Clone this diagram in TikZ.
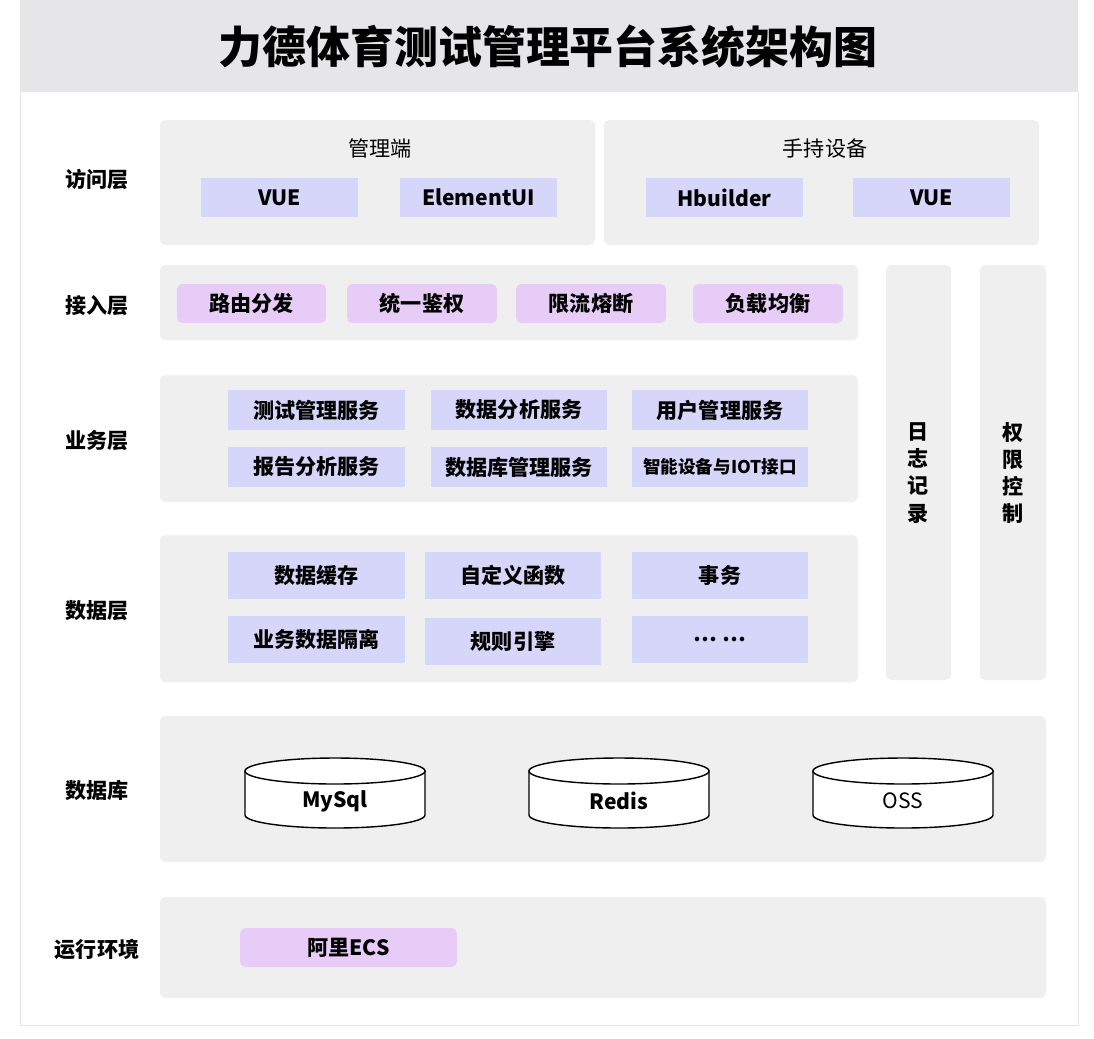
\documentclass[tikz,border=0pt]{standalone}
\usepackage{fontspec}
\setmainfont{Noto Sans CJK SC}
\definecolor{bandgray}{HTML}{E6E6E9}
\definecolor{panelgray}{HTML}{EFEFEF}
\definecolor{lav}{HTML}{D6D6FA}
\definecolor{lilac}{HTML}{E8CCF8}
\begin{document}
\begin{tikzpicture}[x=0.02cm,y=-0.02cm,
    panel/.style={fill=panelgray,rounded corners=3pt},
    bf/.style={font=\bfseries\fontsize{12}{14}\selectfont},
    layer/.style={font=\bfseries\fontsize{12}{14}\selectfont},
    db/.style={thick,fill=white}]
  % ------ cadre --------------
  \useasboundingbox (0,0) rectangle (1094,1038);
  \fill[white] (0,0) rectangle (1094,1038);
  \fill[bandgray] (20,0) rectangle (1078,92);
  \draw[bandgray] (20,92) -- (20,1025) -- (1078,1025) -- (1078,92);
  \node (title) at (548,47) {\bfseries\fontsize{25}{30}\selectfont 力德体育测试管理平台系统架构图};

  % ------ couches --------------
  \node[layer] (l1) at (97,180) {访问层};
  \node[layer] (l2) at (97,306) {接入层};
  \node[layer] (l3) at (97,441) {业务层};
  \node[layer] (l4) at (97,611) {数据层};
  \node[layer] (l5) at (97,790) {数据库};
  \node[layer] (l6) at (97,950) {运行环境};

  % ------ panneaux --------------
  \fill[panel] (160,120) rectangle (595,245);
  \fill[panel] (604,120) rectangle (1039,245);
  \fill[panel] (160,265) rectangle (858,340);
  \fill[panel] (160,375) rectangle (858,502);
  \fill[panel] (160,535) rectangle (858,682);
  \fill[panel] (886,265) rectangle (951,680);
  \fill[panel] (980,265) rectangle (1046,680);
  \fill[panel] (160,716) rectangle (1046,862);
  \fill[panel] (160,897) rectangle (1046,998);

  % ------ acces --------------
  \node (admin) at (380,148) {\fontsize{12}{14}\selectfont 管理端};
  \node (hand) at (825,148) {\fontsize{12}{14}\selectfont 手持设备};
  \fill[lav] (201,178) rectangle (358,217); \node[bf] (vue1) at (279.5,197.5) {VUE};
  \fill[lav] (400,178) rectangle (557,217); \node[bf] (eui) at (478.5,197.5) {ElementUI};
  \fill[lav] (646,178) rectangle (803,217); \node[bf] (hb) at (724.5,197.5) {Hbuilder};
  \fill[lav] (853,178) rectangle (1010,217); \node[bf] (vue2) at (931.5,197.5) {VUE};

  % ------ entree --------------
  \foreach \xa/\xb/\txt [count=\i] in {177/326/路由分发,347/497/统一鉴权,516/666/限流熔断,693/843/负载均衡}{
    \fill[lilac,rounded corners=3pt] (\xa,284) rectangle (\xb,323);
    \node[bf] (gw\i) at ({(\xa+\xb)/2},303.5) {\txt};
  }

  % ------ metier --------------
  \foreach \xa/\xb/\ya/\yb/\txt [count=\i] in {
      228/405/390/430/测试管理服务, 431/607/390/430/数据分析服务, 632/808/390/430/用户管理服务,
      228/405/447/487/报告分析服务, 431/607/447/487/数据库管理服务}{
    \fill[lav] (\xa,\ya) rectangle (\xb,\yb);
    \node[bf] (svc\i) at ({(\xa+\xb)/2},{(\ya+\yb)/2}) {\txt};
  }
  \fill[lav] (632,447) rectangle (808,487);
  \node[font=\bfseries\fontsize{10}{12}\selectfont] (svc6) at (720,467) {智能设备与IOT接口};

  % ------ donnees --------------
  \foreach \xa/\xb/\ya/\yb/\txt [count=\i] in {
      228/405/552/599/数据缓存, 425/601/552/599/自定义函数, 632/808/552/599/事务,
      228/405/616/663/业务数据隔离, 425/601/618/665/规则引擎, 632/808/616/663/… …}{
    \fill[lav] (\xa,\ya) rectangle (\xb,\yb);
    \node[bf] (dat\i) at ({(\xa+\xb)/2},{(\ya+\yb)/2}) {\txt};
  }

  % ------ cotes --------------
  \node[font=\bfseries\fontsize{12}{15.5}\selectfont,align=center] (log) at (918.5,473) {日\\志\\记\\录};
  \node[font=\bfseries\fontsize{12}{15.5}\selectfont,align=center] (perm) at (1013,473) {权\\限\\控\\制};

  % ------ bases --------------
  \foreach \cx/\txt [count=\i] in {335/\bfseries MySql,619/\bfseries Redis,903/OSS}{
    \draw[db] (\cx-90,771) -- (\cx-90,815) arc[start angle=180,end angle=360,x radius=90,y radius=-13]
      -- (\cx+90,771) -- cycle;
    \draw[db] (\cx,771) ellipse[x radius=90,y radius=13];
    \node[font=\fontsize{12}{14}\selectfont] (db\i) at (\cx,801) {\txt};
  }

  % ------ environnement --------------
  \fill[lilac,rounded corners=3pt] (240,928) rectangle (457,967);
  \node[bf] (ecs) at (348.5,947.5) {阿里ECS};
\end{tikzpicture}
\end{document}
